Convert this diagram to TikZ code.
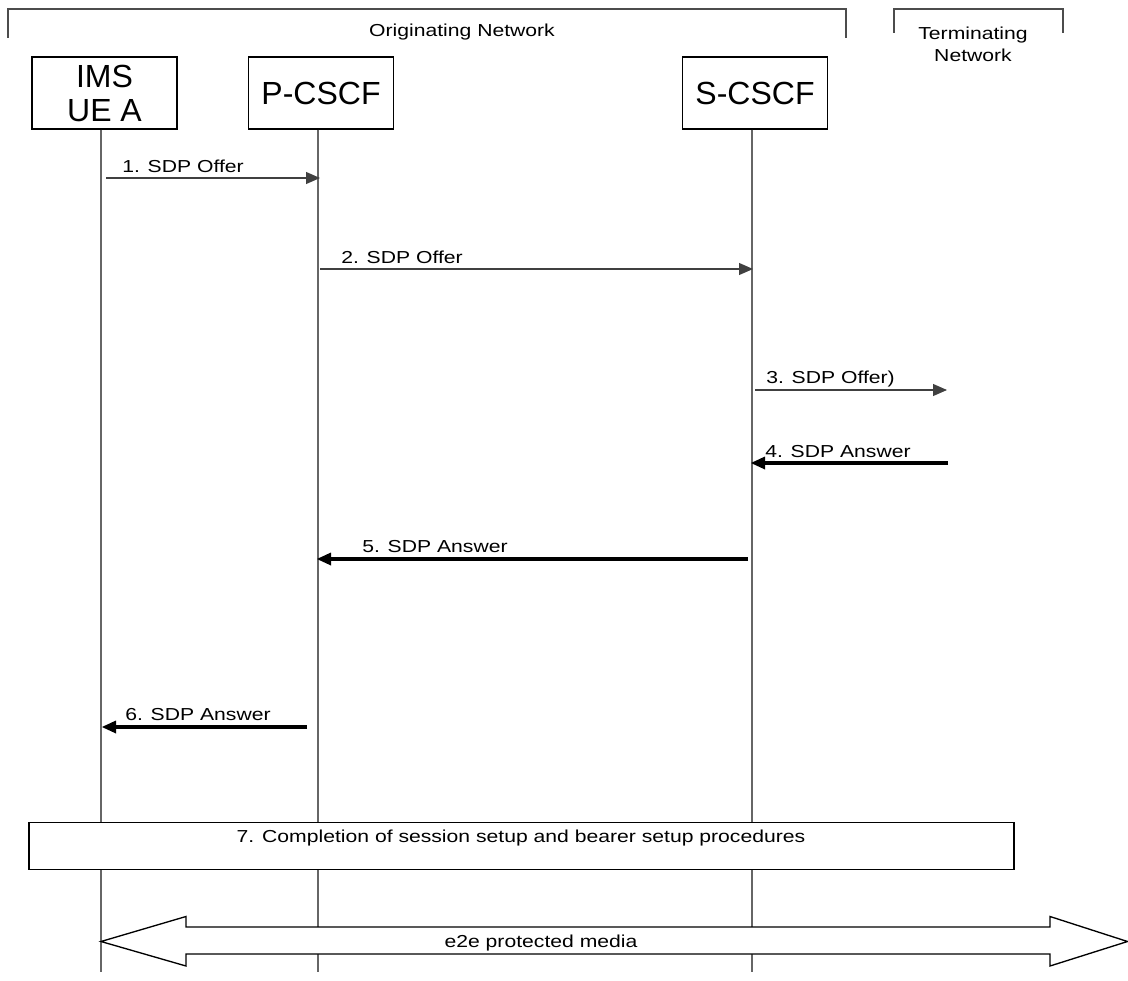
\documentclass[tikz,border=0pt]{standalone}
\usepackage{fontspec}
\setmainfont{Liberation Sans}
\newfontfamily\lblfont[FakeStretch=1.22]{Liberation Sans}
\usetikzlibrary{arrows.meta}
\begin{document}
\begin{tikzpicture}[x=0.75pt,y=-0.75pt,
  entity/.style={draw=black, line width=0.8pt, minimum width=145*0.75pt, minimum height=72*0.75pt, inner sep=0pt, font=\fontsize{24}{25.5}\selectfont, align=center},
  lifeline/.style={draw=black!60, line width=0.8pt},
  bracket/.style={draw=black!70, line width=0.8pt},
  lbl/.style={font=\lblfont\fontsize{13}{15}\selectfont, inner sep=0pt},
  thinmsg/.style={draw=black!75, line width=0.8pt, -{Triangle[length=14*0.75pt,width=12*0.75pt]}},
  thickmsg/.style={draw=black, line width=2.3pt, -{Triangle[length=14*0.75pt,width=13*0.75pt,line width=0pt]}},
  procbox/.style={draw=black, line width=1pt, minimum width=985*0.75pt, minimum height=47*0.75pt, inner sep=0pt}
]
\useasboundingbox (0,0) rectangle (1128,981);
% network brackets
\draw[bracket] (8,38) -- (8,9) -- (846,9) -- (846,38);
\node[lbl, anchor=base] (orig) at (462,37) {Originating Network};
\draw[bracket] (894,33) -- (894,9) -- (1063,9) -- (1063,33);
\node[lbl, anchor=base] (term1) at (973,40) {Terminating};
\node[lbl, anchor=base] (term2) at (973,62) {Network};
% entities
\node[entity] (ue) at (104.5,93) {IMS\\UE A};
\node[entity] (pcscf) at (321,93) {P-CSCF};
\node[entity] (scscf) at (755,93) {S-CSCF};
% lifelines
\coordinate (ueEnd) at (101,972);
\coordinate (pEnd) at (318,972);
\coordinate (sEnd) at (752,972);
\draw[lifeline] (ue.south -| ueEnd) -- (ueEnd);
\draw[lifeline] (pcscf.south -| pEnd) -- (pEnd);
\draw[lifeline] (scscf.south -| sEnd) -- (sEnd);
% message coordinates
\coordinate (m1a) at (106,178); \coordinate (m1b) at (320,178);
\coordinate (m2a) at (320,269); \coordinate (m2b) at (753,269);
\coordinate (m3a) at (755,390); \coordinate (m3b) at (947,390);
\coordinate (m4a) at (948,463); \coordinate (m4b) at (751,463);
\coordinate (m5a) at (748,559); \coordinate (m5b) at (317,559);
\coordinate (m6a) at (307,727); \coordinate (m6b) at (102,727);
\draw[thinmsg] (m1a) -- (m1b);
\node[lbl, anchor=base west] (l1) at (122,172) {1. SDP Offer};
\draw[thinmsg] (m2a) -- (m2b);
\node[lbl, anchor=base west] (l2) at (341,263) {2. SDP Offer};
\draw[thinmsg] (m3a) -- (m3b);
\node[lbl, anchor=base west] (l3) at (766,383) {3. SDP Offer)};
\draw[thickmsg] (m4a) -- (m4b);
\node[lbl, anchor=base west] (l4) at (765,457) {4. SDP Answer};
\draw[thickmsg] (m5a) -- (m5b);
\node[lbl, anchor=base west] (l5) at (362,552) {5. SDP Answer};
\draw[thickmsg] (m6a) -- (m6b);
\node[lbl, anchor=base west] (l6) at (125,720) {6. SDP Answer};
% procedure box
\node[procbox, fill=white] (proc) at (521.5,846) {};
\node[lbl, anchor=base] (proctext) at (521,842) {7. Completion of session setup and bearer setup procedures};
% e2e double arrow
\draw[line width=1pt, fill=white] (101,941.5) -- (186,916.5) -- (186,927) -- (1050,927) -- (1050,916.5) -- (1127.5,941.5) -- (1050,966) -- (1050,954) -- (186,954) -- (186,966) -- cycle;
\node[lbl, anchor=base] (media) at (541,947) {e2e protected media};
\end{tikzpicture}
\end{document}
